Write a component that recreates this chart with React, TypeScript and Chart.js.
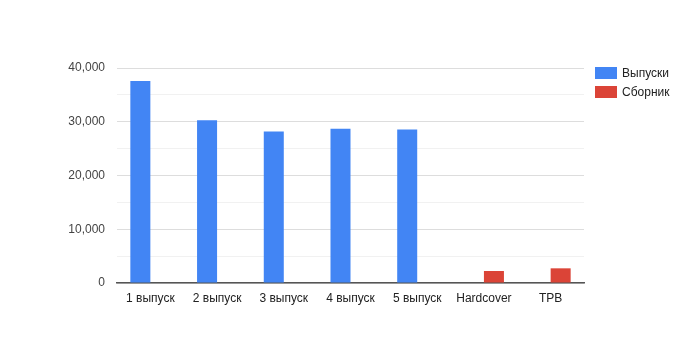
import React, { useEffect, useRef } from "react";
import { Chart, registerables } from "chart.js";

Chart.register(...registerables);

const categories = ["1 выпуск", "2 выпуск", "3 выпуск", "4 выпуск", "5 выпуск", "Hardcover", "TPB"];
const issuesValues = [37600, 30300, 28200, 28700, 28550, null, null];
const collectionValues = [null, null, null, null, null, 2230, 2730];
const seriesNames = ["Выпуски", "Сборник"];
const seriesColors = ["#4285F4", "#DB4437"];

const FONT = "'Liberation Sans', Arial, sans-serif";

export default function App() {
  const ref = useRef<HTMLCanvasElement | null>(null);

  useEffect(() => {
    document.body.style.margin = "0";
    const ctx = ref.current!;
    const chart = new Chart(ctx, {
      type: "bar",
      data: {
        labels: categories,
        datasets: [
          {
            label: seriesNames[0],
            data: issuesValues,
            backgroundColor: seriesColors[0],
            categoryPercentage: 0.6,
            barPercentage: 1.0,
          },
          {
            label: seriesNames[1],
            data: collectionValues,
            backgroundColor: seriesColors[1],
            categoryPercentage: 0.6,
            barPercentage: 1.0,
          },
        ],
      },
      options: {
        animation: false,
        responsive: false,
        maintainAspectRatio: false,
        layout: { padding: { top: 68, right: 116, left: 0, bottom: 0 } },
        plugins: {
          legend: { display: false },
          tooltip: { enabled: false },
        },
        scales: {
          x: {
            grid: { display: false, drawTicks: false },
            border: { display: true, color: "#555555", width: 1.5 },
            ticks: {
              color: "#222222",
              font: { family: FONT, size: 12 },
              padding: 8,
              maxRotation: 0,
              autoSkip: false,
            },
            afterFit: (scale: any) => {
              scale.height = 67;
            },
          },
          y: {
            min: 0,
            max: 40000,
            border: { display: false },
            grid: {
              drawTicks: false,
              color: (c: any) =>
                c.tick && c.tick.value % 10000 === 0 ? "#dddddd" : "#f1f1f1",
            },
            ticks: {
              stepSize: 5000,
              color: "#444444",
              font: { family: FONT, size: 12 },
              padding: 12,
              callback: (v: any) =>
                Number(v) % 10000 === 0 ? Number(v).toLocaleString("en-US") : "",
            },
            afterFit: (scale: any) => {
              scale.width = 117;
            },
          },
        },
      },
    });
    return () => chart.destroy();
  }, []);

  const legendItem = (name: string, color: string, top: number) => (
    <div
      key={name}
      style={{
        position: "absolute",
        left: 595,
        top,
        display: "flex",
        alignItems: "center",
        fontFamily: FONT,
        fontSize: 12,
        color: "#222222",
        whiteSpace: "nowrap",
      }}
    >
      <span
        style={{
          display: "inline-block",
          width: 22,
          height: 12,
          background: color,
          marginRight: 5,
        }}
      />
      <span>{name}</span>
    </div>
  );

  return (
    <div style={{ position: "relative", width: 700, height: 350, background: "#ffffff" }}>
      <canvas ref={ref} width={700} height={350} style={{ display: "block" }} />
      {legendItem(seriesNames[0], seriesColors[0], 66)}
      {legendItem(seriesNames[1], seriesColors[1], 85)}
    </div>
  );
}
